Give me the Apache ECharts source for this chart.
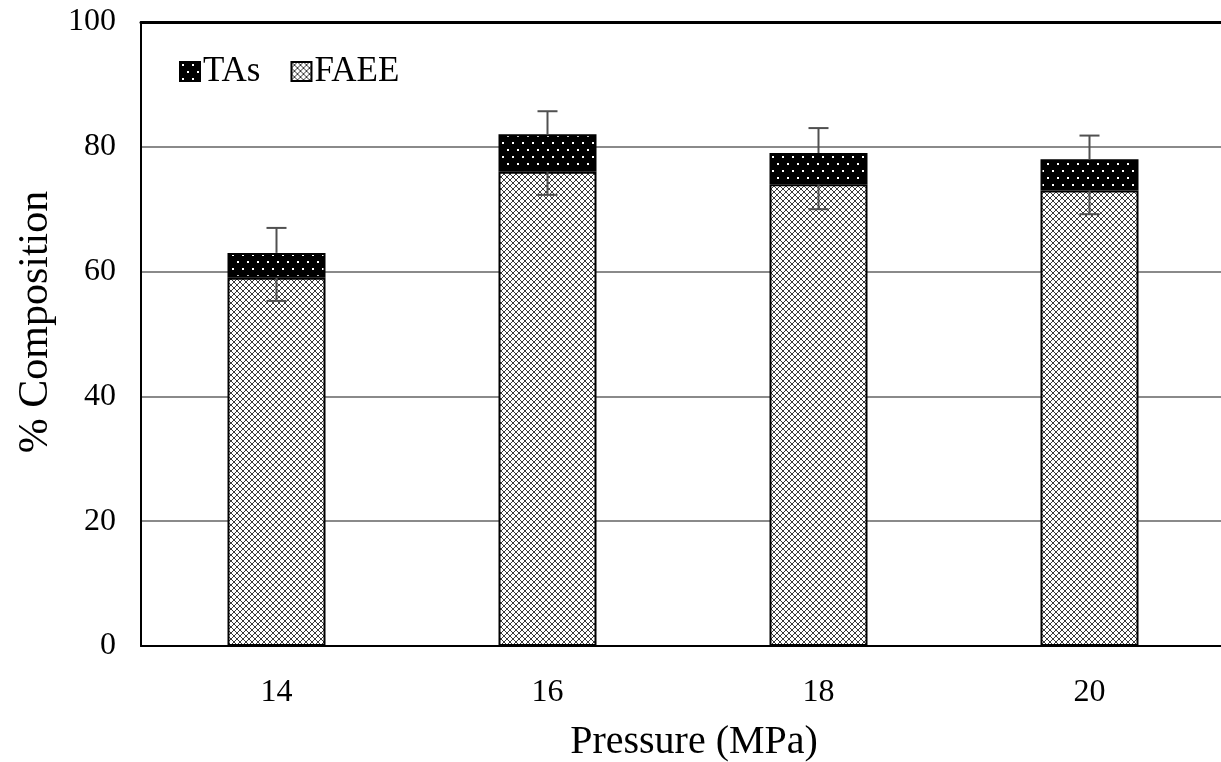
<!DOCTYPE html>
<html>
<head>
<meta charset="utf-8">
<script src="https://cdn.jsdelivr.net/npm/echarts@6/dist/echarts.min.js"></script>
<style>
  html, body { margin: 0; padding: 0; background: #fff; }
  #chart { width: 1221px; height: 762px; }
</style>
</head>
<body>
<div id="chart"></div>
<script>
// Pressure levels (MPa)
const categories = ['14', '16', '18', '20'];
// FAEE share (%), lower stacked segment
const faee = [59, 76, 74, 73];
// TAs share (%), upper stacked segment
const tas = [4, 6, 5, 5];
// Standard deviation of FAEE value
const faeeErr = [3.7, 3.7, 4, 3.8];
// Standard deviation of total (FAEE + TAs)
const totalErr = [4, 3.7, 4, 3.8];
const yTicks = [0, 20, 40, 60, 80, 100];

const FONT = '"Liberation Serif", "Times New Roman", serif';

// Cross-hatch fill for FAEE
function hatchPattern() {
  const c = document.createElement('canvas');
  c.width = 6; c.height = 6;
  const g = c.getContext('2d');
  g.fillStyle = '#fff';
  g.fillRect(0, 0, 6, 6);
  g.strokeStyle = '#3a3a3a';
  g.lineWidth = 1;
  g.beginPath();
  g.moveTo(0, 0); g.lineTo(6, 6);
  g.moveTo(6, 0); g.lineTo(0, 6);
  g.moveTo(-3, 3); g.lineTo(3, 9);
  g.moveTo(3, -3); g.lineTo(9, 3);
  g.stroke();
  return c;
}

// Black fill with staggered white dots for TAs
function dotPattern() {
  const c = document.createElement('canvas');
  c.width = 10; c.height = 14;
  const g = c.getContext('2d');
  g.fillStyle = '#000';
  g.fillRect(0, 0, 10, 14);
  g.fillStyle = '#fff';
  g.fillRect(2, 2, 2, 2);
  g.fillRect(7, 9, 2, 2);
  return c;
}

const totals = faee.map((v, i) => v + tas[i]);
const errData = categories.map((c, i) => [i, faee[i], faeeErr[i], totals[i], totalErr[i]]);

const chart = echarts.init(document.getElementById('chart'));
chart.setOption({
  animation: false,
  backgroundColor: '#fff',
  grid: { left: 141, right: -4, top: 22, bottom: 116, containLabel: false, outerBoundsMode: 'none' },
  legend: {
    left: 174,
    top: 49,
    icon: 'rect',
    itemWidth: 20,
    itemHeight: 19,
    itemGap: 30,
    textStyle: { fontFamily: FONT, fontSize: 35, color: '#000', padding: [0, 0, 0, -2] },
    data: ['TAs', 'FAEE']
  },
  xAxis: [{
    type: 'category',
    data: categories,
    position: 'bottom',
    axisLine: { lineStyle: { color: '#000', width: 2 } },
    axisTick: { show: false },
    axisLabel: { fontFamily: FONT, fontSize: 32, color: '#000', margin: 31 },
    name: 'Pressure (MPa)',
    nameLocation: 'middle',
    nameGap: 76,
    nameTextStyle: { fontFamily: FONT, fontSize: 40, color: '#000', padding: [0, 0, 0, 22], verticalAlign: 'top' }
  }, {
    type: 'category',
    data: categories,
    position: 'top',
    axisLine: { lineStyle: { color: '#000', width: 3 } },
    axisTick: { show: false },
    axisLabel: { show: false }
  }],
  yAxis: {
    type: 'value',
    min: yTicks[0],
    max: yTicks[yTicks.length - 1],
    interval: 20,
    axisLine: { show: true, lineStyle: { color: '#000', width: 2 } },
    axisTick: { show: false },
    axisLabel: { fontFamily: FONT, fontSize: 32, color: '#000', margin: 25 },
    splitLine: { lineStyle: { color: '#8a8a8a', width: 2 } },
    name: '% Composition',
    nameLocation: 'middle',
    nameGap: 82,
    nameRotate: 90,
    nameTextStyle: { fontFamily: FONT, fontSize: 42, color: '#000', padding: [0, 0, 0, 24] }
  },
  series: [{
    name: 'FAEE',
    type: 'bar',
    stack: 'total',
    barWidth: 98,
    data: faee,
    itemStyle: {
      color: { image: hatchPattern(), repeat: 'repeat' },
      borderColor: '#000',
      borderWidth: 2
    }
  }, {
    name: 'TAs',
    type: 'bar',
    stack: 'total',
    barWidth: 98,
    data: tas,
    itemStyle: {
      color: { image: dotPattern(), repeat: 'repeat' },
      borderColor: '#000',
      borderWidth: 2
    }
  }, {
    name: 'err',
    type: 'custom',
    z: 10,
    data: errData,
    renderItem: function (params, api) {
      const i = api.value(0);
      const f = api.value(1), fe = api.value(2);
      const t = api.value(3), te = api.value(4);
      const cap = 10;
      const pF = api.coord([i, f]);
      const pFl = api.coord([i, f - fe]);
      const pT = api.coord([i, t]);
      const pTh = api.coord([i, t + te]);
      const style = { stroke: '#505050', lineWidth: 2 };
      return {
        type: 'group',
        children: [
          { type: 'line', shape: { x1: pF[0], y1: pF[1], x2: pFl[0], y2: pFl[1] }, style: style },
          { type: 'line', shape: { x1: pFl[0] - cap, y1: pFl[1], x2: pFl[0] + cap, y2: pFl[1] }, style: style },
          { type: 'line', shape: { x1: pT[0], y1: pT[1], x2: pTh[0], y2: pTh[1] }, style: style },
          { type: 'line', shape: { x1: pTh[0] - cap, y1: pTh[1], x2: pTh[0] + cap, y2: pTh[1] }, style: style }
        ]
      };
    }
  }]
});
</script>
</body>
</html>
